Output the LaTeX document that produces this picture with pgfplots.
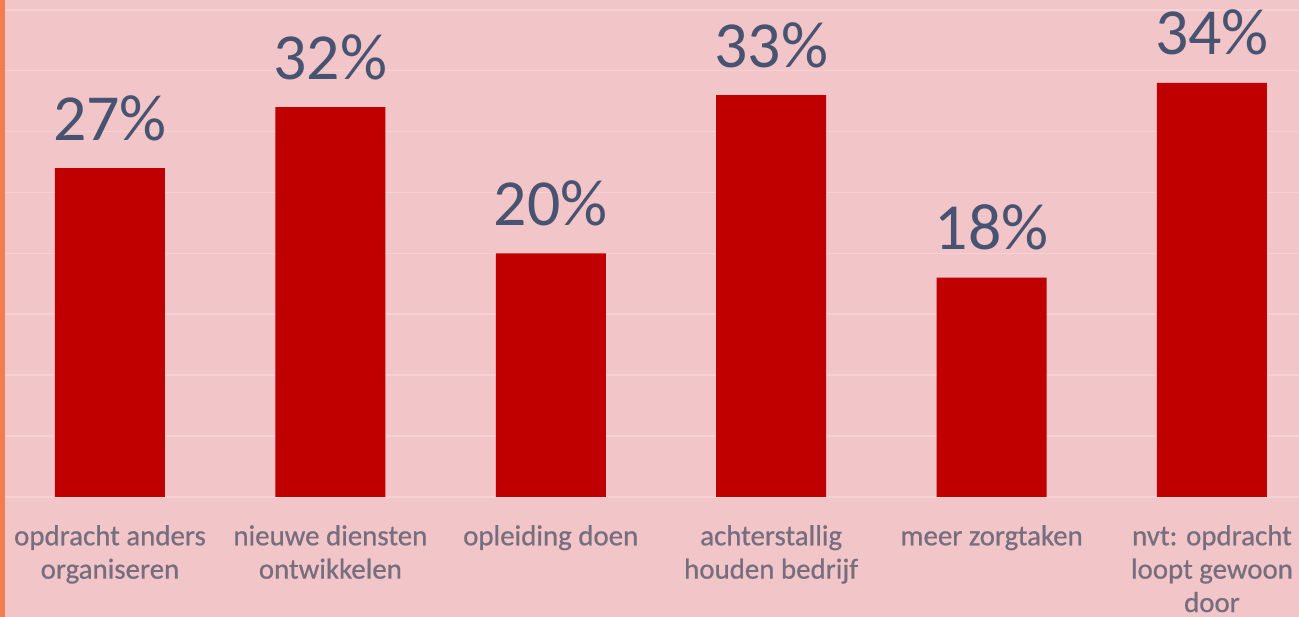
\documentclass[border=0pt]{standalone}
\usepackage{pgfplots}
\pgfplotsset{compat=1.18}
\usepackage{fontspec}
\setmainfont{Carlito}
\newfontfamily\catfont{Carlito}[FakeBold=0.6]

\definecolor{bgpink}{HTML}{F2C5C8}
\definecolor{gridpink}{HTML}{F5D1D3}
\definecolor{barred}{HTML}{C00000}
\definecolor{stripe}{HTML}{F47C4E}
\definecolor{valtext}{HTML}{475370}
\definecolor{cattext}{HTML}{766E7E}

\begin{document}
\begin{tikzpicture}
\fill[bgpink] (0,0) rectangle (1299bp,617bp);
\begin{axis}[
  at={(0,120bp)}, anchor=south west,
  scale only axis,
  width=1299bp, height=497bp,
  ybar, bar width=110bp,
  xmin=-0.499, xmax=5.395,
  ymin=0, ymax=40.8,
  axis line style={draw=none},
  major tick length=0,
  ytick={0,5,...,40}, yticklabels={},
  ymajorgrids,
  grid style={gridpink, line width=1.6bp},
  xtick=data,
  xticklabels={{opdracht anders\\organiseren},{nieuwe diensten\\ontwikkelen},{opleiding doen},{achterstallig\\houden bedrijf},{meer zorgtaken},{nvt: opdracht\\loopt gewoon\\door}},
  xticklabel style={font=\catfont\fontsize{29}{33.5}\selectfont, text=cattext, align=center, inner sep=0pt, anchor=north, yshift=-28bp},
  nodes near coords={\pgfmathprintnumber[assume math mode=true]{\pgfplotspointmeta}\%},
  every node near coord/.append style={font=\fontsize{66}{66}\selectfont, text=valtext, anchor=base, inner sep=0pt, yshift=28bp},
]
\addplot[fill=barred, draw=none] coordinates {(0,27) (1,32) (2,20) (3,33) (4,18) (5,34)};
\end{axis}
\fill[stripe] (0,0) rectangle (5bp,617bp);
\pgfresetboundingbox
\path[use as bounding box] (0,0) rectangle (1299bp,617bp);
\end{tikzpicture}
\end{document}
